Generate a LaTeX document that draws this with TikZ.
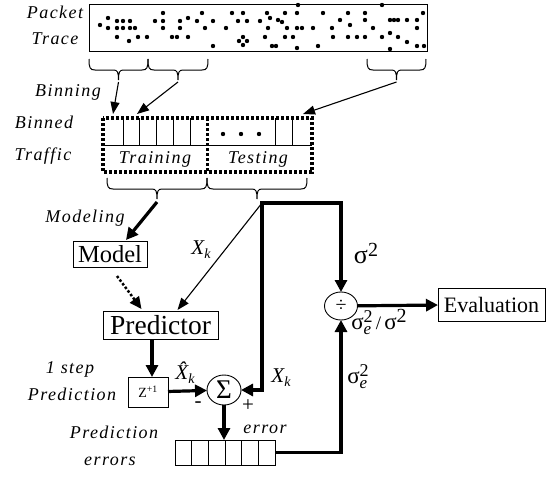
\documentclass[tikz,border=0pt]{standalone}
\usepackage{fontspec}
\setmainfont{Liberation Serif}
\usetikzlibrary{arrows.meta,shapes.geometric,calc}
\newcommand\hbrace[3]{%
  \draw[thinln] (#1,#3) .. controls (#1,#3+9) and (#1+1,#3+11) .. (#1+6,#3+11)
    -- ({(#1+#2)/2-5},#3+11) .. controls ({(#1+#2)/2-1},#3+11) and ({(#1+#2)/2},#3+13) .. ({(#1+#2)/2},#3+21)
    .. controls ({(#1+#2)/2},#3+13) and ({(#1+#2)/2+1},#3+11) .. ({(#1+#2)/2+5},#3+11)
    -- (#2-6,#3+11) .. controls (#2-1,#3+11) and (#2,#3+9) .. (#2,#3);}
% sigma with superscript 2 (and optional subscript e)
\newcommand\sigsq[2]{{\fontsize{#1}{#1}\selectfont σ}\raisebox{#2}{\fontsize{20}{20}\selectfont 2}}
\newcommand\sigesq[2]{{\fontsize{#1}{#1}\selectfont σ}\rlap{\raisebox{-5pt}{\fontsize{17}{17}\selectfont\itshape e}}\raisebox{#2}{\fontsize{18}{18}\selectfont 2}}
\newcommand\xk{{\itshape X}\raisebox{-4pt}{\fontsize{14}{14}\selectfont\itshape k}}
\begin{document}
\begin{tikzpicture}[x=1pt,y=-1pt,
  thinln/.style={line width=1pt},
  thickln/.style={line width=3.2pt},
  thinarr/.style={line width=1.1pt,-{Triangle[length=12pt,width=9pt]}},
  thickarr/.style={line width=3.2pt,-{Triangle[length=12pt,width=12pt]}},
  box/.style={draw,line width=0.9pt,inner sep=0pt,outer sep=0pt},
  dotln/.style={line width=3.2pt,dash pattern=on 3.2pt off 1.8pt},
  lbl/.style={font=\fontsize{18}{20}\selectfont\itshape\addfontfeature{LetterSpace=8},inner sep=0pt,anchor=base},
  mlbl/.style={font=\fontsize{21}{23}\selectfont,inner sep=0pt},
  opnode/.style={draw,ellipse,line width=0.9pt,inner sep=0pt,outer sep=0pt}]
\useasboundingbox (0,0) rectangle (547,477);
% packet trace
\node[box,anchor=north west,minimum width=338pt,minimum height=47pt] (trace) at (89,4) {};
\foreach \x/\y in {100/25,108/18,108/28,117/21,123/21,130/21,117/28,123/28,130/28,135/28,117/37,129/41,138/37,147/37,
  163/13,155/21,163/21,163/28,172/37,177/37,180/21,180/28,188/18,188/37,197/21,202/13,205/28,213/21,213/46,
  226/28,232/13,243/13,238/21,247/21,243/37,239/41,247/41,243/45,260/21,267/13,270/18,268/28,265/37,272/46,276/46,
  278/20,282/22,285/13,297/13,298/5,323/13,348/13,365/13,382/5,423/13,287/28,297/28,302/28,313/28,332/28,350/25,
  365/20,373/28,390/20,394/20,398/20,407/20,417/20,417/28,390/33,340/20,285/37,293/37,333/37,348/37,357/37,365/37,
  382/37,398/37,407/42,417/46,424/46,297/48,318/46,390/49}
  \fill (\x,\y) circle (2.2);
\node[lbl] (lpacket) at (55,18) {Packet};
\node[lbl] (ltrace) at (55,44) {Trace};
% braces under trace
\hbrace{89}{148}{59}
\hbrace{148}{208}{59}
\hbrace{367}{426}{59}
\coordinate (bt1) at (118.5,82);
\coordinate (bt2) at (178,82);
\coordinate (bt3) at (396.5,82);
\node[lbl] (lbinning) at (68,96) {Binning};
% binned traffic
\node[inner sep=0pt,outer sep=0pt,anchor=north west,minimum width=104.5pt,minimum height=54pt] (train) at (103,118) {};
\node[inner sep=0pt,outer sep=0pt,anchor=north west,minimum width=104.5pt,minimum height=54pt] (test) at (207.5,118) {};
\draw[thinln] (train.north west) ++(0,27) -- ($(test.north east)+(0,27)$);
\foreach \x in {123.2,139.9,156.6,173.3,190,275.5,292.5}
  \draw[thinln] (\x,118) -- (\x,145);
\foreach \x in {223,241,259} \fill (\x,134) circle (2.2);
\draw[dotln] (train.north west) rectangle (test.south east);
\draw[dotln] (train.north east) -- (train.south east);
\node[lbl] (ltraining) at (155,163) {Training};
\node[lbl] (ltesting) at (258,163) {Testing};
\node[lbl] (lbinned) at (44,128) {Binned};
\node[lbl] (ltraffic) at (43,160) {Traffic};
\draw[thinarr] (bt1) -- ($(train.north west)+(10,-4)$);
\draw[thinarr] (bt2) -- ($(train.north west)+(34,-4)$);
\draw[thinarr] (bt3) -- ($(test.north east)+(-9,-4)$);
% braces under binned
\hbrace{107}{207}{178}
\hbrace{207}{307}{178}
\coordinate (ba) at (157,202);
\coordinate (J) at (262,203);
\node[lbl] (lmodeling) at (85,222) {Modeling};
% model and predictor
\node[box,minimum width=74pt,minimum height=26pt,font=\fontsize{24.5}{26}\selectfont] (model) at (110,254) {Model};
\node[box,minimum width=115pt,minimum height=28pt,font=\fontsize{27.5}{29}\selectfont] (pred) at (160.5,325) {Predictor};
\node[box,minimum width=40pt,minimum height=30pt,font=\fontsize{14}{15}\selectfont] (zbox) at (148,392) {Z\textsuperscript{+1}};
\node[opnode,minimum width=34pt,minimum height=30pt,font=\fontsize{27}{28}\selectfont] (sum) at (224,390) {\raisebox{-1pt}{Σ}};
\node[opnode,minimum width=33pt,minimum height=28pt,font=\fontsize{20}{22}\selectfont] (div) at (341,306) {÷};
\node[box,minimum width=107pt,minimum height=33pt,font=\fontsize{22}{24}\selectfont] (eval) at (491.5,304.5) {Evaluation};
\node[box,minimum width=100pt,minimum height=25pt] (errbuf) at (225,452.5) {};
\foreach \i in {1,...,5}
  \draw[thinln] ($(errbuf.north west)+(\i*16.67,0)$) -- ($(errbuf.south west)+(\i*16.67,0)$);
% connectors
\draw[thickarr] (ba) -- ($(model.north)+(16,-1)$);
\draw[line width=2.5pt,dash pattern=on 2.5pt off 2pt,-{Triangle[length=12pt,width=11pt]}] ($(model.south)+(7,9)$) -- ($(pred.north)+(-19,-2)$);
\draw[thinarr] (J) -- ($(pred.north)+(17,-1)$);
\draw[thickln,line join=miter,{Triangle[length=12pt,width=12pt]}-{Triangle[length=12pt,width=12pt]}] (sum) -| (J) -| (div);
\draw[thickarr] (errbuf.east) -| (div);
\draw[thickarr] (div) -- (eval);
\draw[thickarr] ([xshift=4pt]zbox.north |- pred.south) -- ([xshift=4pt]zbox.north);
\draw[thickarr] (zbox) -- (sum);
\draw[thickarr] (sum) -- (sum |- errbuf.north);
% labels
\node[lbl] (l1step) at (70,373) {1 step};
\node[lbl] (lpred1) at (72,400) {Prediction};
\node[lbl] (lpred2) at (114,438) {Prediction};
\node[lbl] (lerrors) at (110,465) {errors};
\node[lbl] (lerror) at (265,433) {error};
\node[mlbl] (lxk1) at (201,250) {\xk};
\node[mlbl] (ls2) at (366,254) {\sigsq{26}{7pt}};
\node[mlbl] (lratio) at (379,322) {\sigesq{23}{7pt}{\fontsize{19}{19}\selectfont\,/\,}\sigsq{23}{7pt}};
\node[mlbl] (lxk2) at (281,378) {\xk};
\node[mlbl] (lse2) at (358,377) {\sigesq{23}{7pt}};
\node[mlbl] (lxhat) at (185,373) {\^{\itshape X}\raisebox{-4pt}{\fontsize{14}{14}\selectfont\itshape k}};
\node[mlbl] (lminus) at (198,405) {-};
\node[mlbl] (lplus) at (248,406) {+};
\end{tikzpicture}
\end{document}
